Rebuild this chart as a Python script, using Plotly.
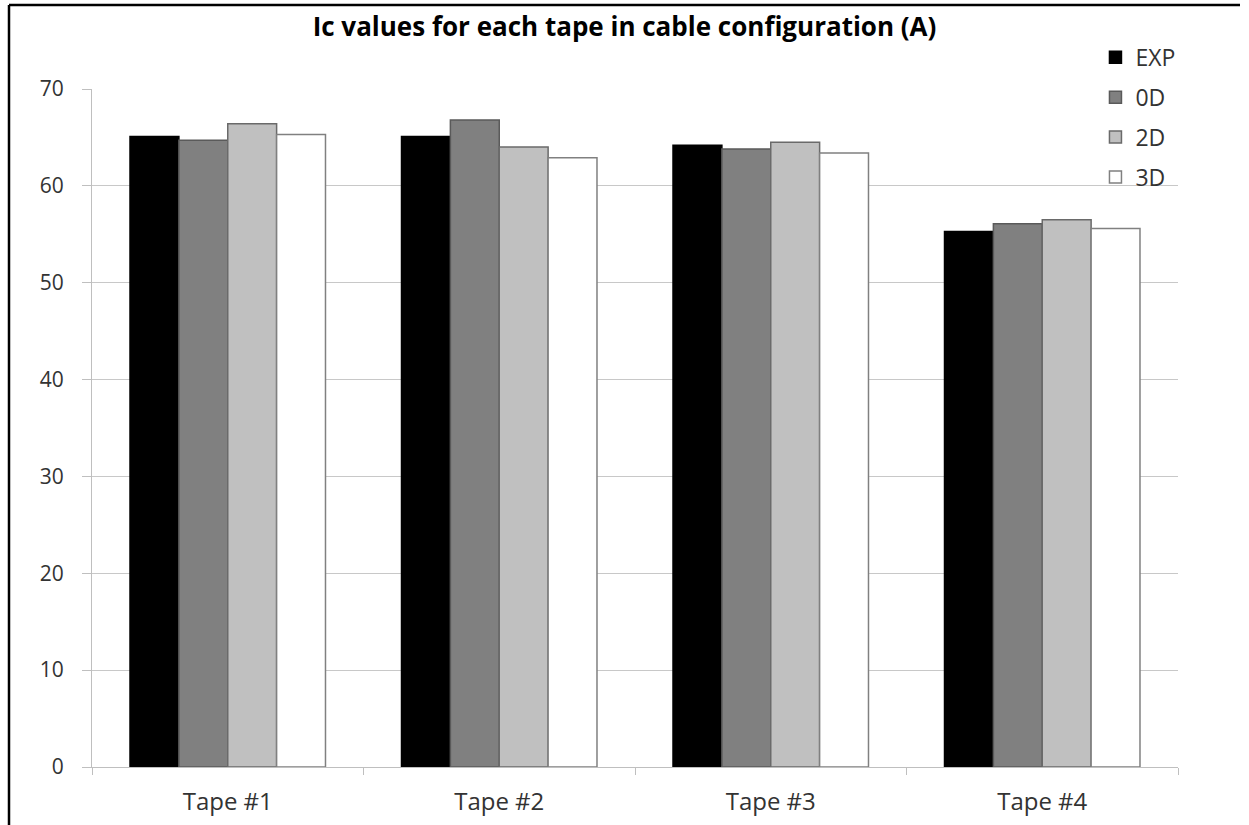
import plotly.graph_objects as go

categories = ["Tape #1", "Tape #2", "Tape #3", "Tape #4"]
series_names = ["EXP", "0D", "2D", "3D"]
exp_values = [65.1, 65.1, 64.2, 55.3]
od_values = [64.7, 66.8, 63.8, 56.1]
twod_values = [66.4, 64.0, 64.5, 56.5]
threed_values = [65.3, 62.9, 63.4, 55.6]
y_ticks = [0, 10, 20, 30, 40, 50, 60, 70]

values = [exp_values, od_values, twod_values, threed_values]
fills = ["#000000", "#808080", "#c0c0c0", "#ffffff"]
outlines = ["#000000", "#5a5a5a", "#6a6a6a", "#808080"]

FONT = "Open Sans"

fig = go.Figure()
for i, (name, vals) in enumerate(zip(series_names, values)):
    fig.add_trace(go.Bar(
        x=categories, y=vals, name=name, legendgroup=name,
        marker=dict(color=fills[i], line=dict(color=outlines[i], width=1.5)),
    ))

fig.update_layout(
    width=1249, height=825,
    margin=dict(l=92, r=71, t=89, b=58, autoexpand=False),
    paper_bgcolor="white", plot_bgcolor="white",
    barmode="group", bargap=0.28, bargroupgap=0,
    font=dict(family=FONT, size=21, color="#333333"),
    title=dict(text="<b>Ic values for each tape in cable configuration (A)</b>",
               x=0.5, xref="container", xanchor="center",
               y=1 - 27 / 825, yref="container", yanchor="middle",
               font=dict(family=FONT, size=26, color="#000000")),
    legend=dict(x=0.924, xanchor="left", y=1.0785, yanchor="top",
                traceorder="grouped", tracegroupgap=7,
                bgcolor="rgba(0,0,0,0)", font=dict(size=23, color="#333333")),
    showlegend=True,
)
fig.update_xaxes(showline=True, linecolor="#bfbfbf", linewidth=1, automargin=False,
                 ticks="outside", tickson="boundaries", ticklen=7, tickcolor="#bfbfbf",
                 ticklabelstandoff=13, showgrid=False, tickfont=dict(size=24))
fig.update_yaxes(range=[0, 70], tickvals=y_ticks, showline=True, linecolor="#bfbfbf",
                 linewidth=1, ticks="outside", ticklen=9, tickcolor="#bfbfbf", automargin=False,
                 showgrid=True, gridcolor="#c8c8c8", gridwidth=1, zeroline=False,
                 ticklabelstandoff=14, tickfont=dict(size=21))

# chart frame (left and top edges)
fig.add_shape(type="line", xref="paper", yref="paper",
              x0=(9 - 92) / 1086, x1=(1240 - 92) / 1086,
              y0=(767 - 5) / 678, y1=(767 - 5) / 678,
              line=dict(color="black", width=2.5))
fig.add_shape(type="line", xref="paper", yref="paper",
              x0=(9 - 92) / 1086, x1=(9 - 92) / 1086,
              y0=(767 - 5) / 678, y1=(767 - 830) / 678,
              line=dict(color="black", width=2.5))

fig.write_html("out.html", config={"displayModeBar": False},
               post_script="document.body.style.margin='0';document.body.style.overflow='hidden';")
